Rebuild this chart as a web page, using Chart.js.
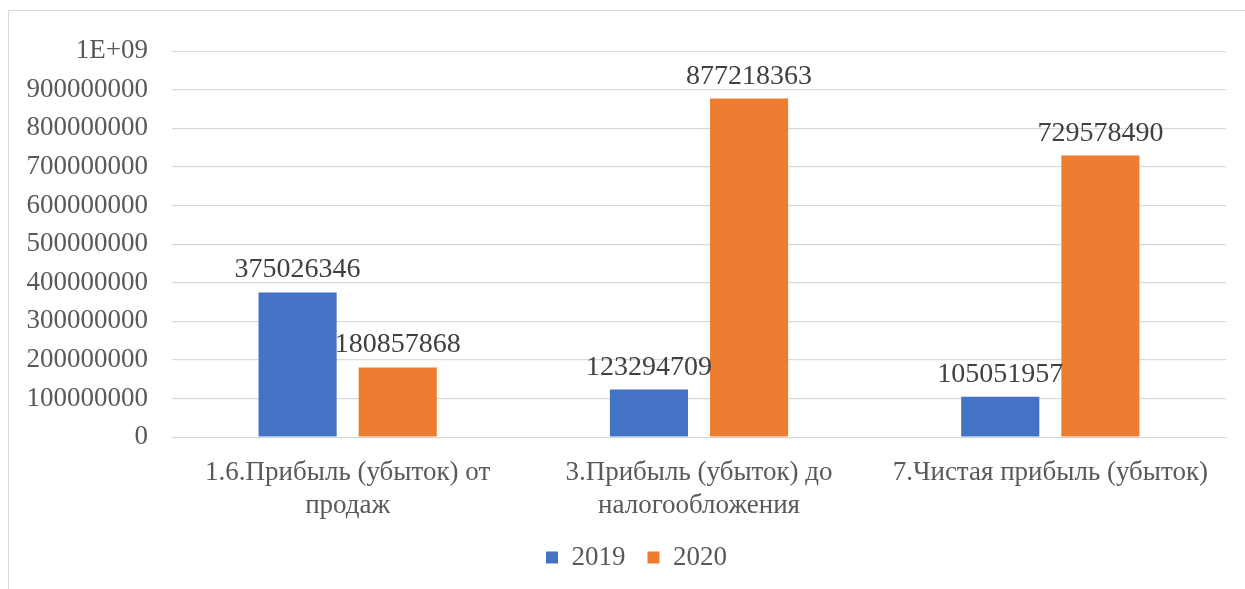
<!DOCTYPE html>
<html>
<head>
<meta charset="utf-8">
<script src="https://cdn.jsdelivr.net/npm/chart.js@4"></script>
<style>
  html, body { margin: 0; padding: 0; background: #fff; overflow: hidden; }
  #wrap {
    position: absolute; left: 8px; top: 10px;
    width: 1240px; height: 590px;
    border: 1px solid #d9d9d9; box-sizing: border-box;
  }
  #chart { display: block; }
</style>
</head>
<body>
<div id="wrap"><canvas id="chart" width="1238" height="588"></canvas></div>
<script>
// Categories and series values
const categories = [
  ['1.6.Прибыль (убыток) от', 'продаж'],
  ['3.Прибыль (убыток) до', 'налогообложения'],
  ['7.Чистая прибыль (убыток)']
];
const series2019 = [375026346, 123294709, 105051957];
const series2020 = [180857868, 877218363, 729578490];
const seriesNames = ['2019', '2020'];

const FONT = "'Liberation Serif', 'Times New Roman', serif";
const SIZE = 27;

// Draw the value above each bar
const valueLabels = {
  id: 'valueLabels',
  afterLayout(chart) {
    // nudge the legend a little to the right, like the original
    chart.legend.left += 25;
  },
  afterDatasetsDraw(chart) {
    const ctx = chart.ctx;
    ctx.save();
    ctx.font = '28px ' + FONT;
    ctx.fillStyle = '#404040';
    ctx.textAlign = 'center';
    ctx.textBaseline = 'alphabetic';
    chart.data.datasets.forEach((ds, i) => {
      chart.getDatasetMeta(i).data.forEach((bar, j) => {
        ctx.fillText(String(ds.data[j]), bar.x, bar.y - 15);
      });
    });
    ctx.restore();
  }
};

const ctx = document.getElementById('chart').getContext('2d');
new Chart(ctx, {
  type: 'bar',
  data: {
    labels: categories,
    datasets: [
      { label: seriesNames[0], data: series2019, backgroundColor: '#4472C4' },
      { label: seriesNames[1], data: series2020, backgroundColor: '#ED7D31' }
    ]
  },
  options: {
    responsive: false,
    animation: false,
    devicePixelRatio: 1,
    categoryPercentage: 0.57,
    barPercentage: 0.78,
    layout: { padding: { top: 24, right: 21, left: 13, bottom: 18 } },
    plugins: {
      legend: {
        position: 'bottom',
        labels: {
          font: { family: FONT, size: SIZE },
          color: '#595959',
          boxWidth: 12,
          boxHeight: 12,
          padding: 22
        }
      },
      tooltip: { enabled: false }
    },
    scales: {
      x: {
        grid: { display: false },
        border: { color: '#d9d9d9' },
        ticks: {
          font: { family: FONT, size: SIZE },
          color: '#595959',
          maxRotation: 0,
          padding: 12
        },
        afterFit: s => { s.paddingLeft = 0; s.paddingRight = 0; s.height -= 12; }
      },
      y: {
        min: 0,
        max: 1000000000,
        ticks: {
          stepSize: 100000000,
          font: { family: FONT, size: SIZE },
          color: '#595959',
          padding: 24,
          callback: v => v === 1000000000 ? '1E+09' : String(v)
        },
        grid: { color: '#d9d9d9', lineWidth: 1.3, drawTicks: false },
        border: { display: false },
        afterFit: s => { s.width = 150; }
      }
    }
  },
  plugins: [valueLabels]
});
</script>
</body>
</html>
